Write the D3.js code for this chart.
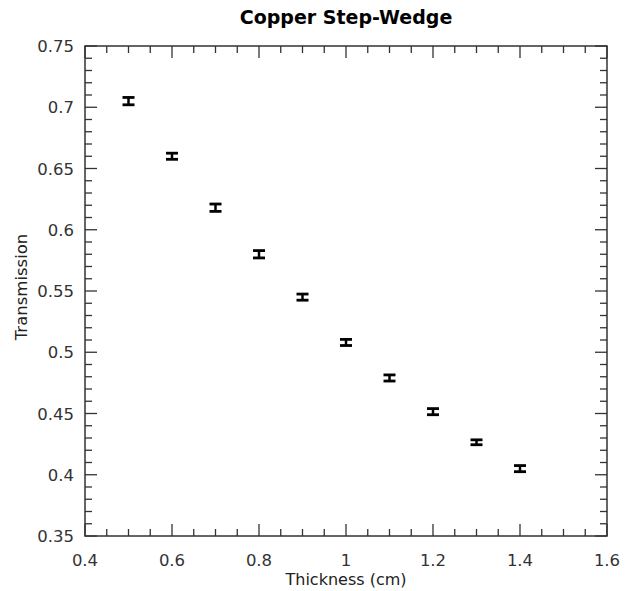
<!DOCTYPE html>
<html>
<head>
<meta charset="utf-8">
<script src="https://d3js.org/d3.v7.min.js"></script>
<style>
  body { margin: 0; background: #fff; }
  text { font-family: "DejaVu Sans", Verdana, sans-serif; }
</style>
</head>
<body>
<script>
// thickness of copper (cm) and measured transmission
const thickness = [0.5, 0.6, 0.7, 0.8, 0.9, 1.0, 1.1, 1.2, 1.3, 1.4];
const transmission = [0.705, 0.660, 0.618, 0.580, 0.545, 0.508, 0.479, 0.4515, 0.4265, 0.405];
const errors = [0.003, 0.0025, 0.003, 0.003, 0.0025, 0.0025, 0.0025, 0.0025, 0.002, 0.0025];
const xTicks = [0.4, 0.6, 0.8, 1.0, 1.2, 1.4, 1.6];
const yTicks = [0.35, 0.4, 0.45, 0.5, 0.55, 0.6, 0.65, 0.7, 0.75];

const width = 627, height = 591;
const margin = {top: 46, right: 20, bottom: 55, left: 85};

const svg = d3.select('body').append('svg')
  .attr('width', width).attr('height', height);

const x = d3.scaleLinear().domain([0.4, 1.6]).range([margin.left, width - margin.right]);
const y = d3.scaleLinear().domain([0.35, 0.75]).range([height - margin.bottom, margin.top]);

const x0 = x.range()[0], x1 = x.range()[1], y0 = y.range()[0], y1 = y.range()[1];

const xMinor = d3.range(0.4, 1.6001, 0.05).map(v => +v.toFixed(2));
const yMinor = d3.range(0.35, 0.7501, 0.01).map(v => +v.toFixed(2));
const isMajor = (v, arr) => arr.some(t => Math.abs(t - v) < 1e-6);

const axisColor = '#333';
const g = svg.append('g').attr('stroke', axisColor).attr('stroke-width', 1.3);

// ticks pointing inward on all four sides
g.selectAll('.xt').data(xMinor).join('line')
  .attr('x1', d => x(d)).attr('x2', d => x(d))
  .attr('y1', y0).attr('y2', d => y0 - (isMajor(d, xTicks) ? 12 : 7));
g.selectAll('.xtt').data(xMinor).join('line')
  .attr('x1', d => x(d)).attr('x2', d => x(d))
  .attr('y1', y1).attr('y2', d => y1 + (isMajor(d, xTicks) ? 12 : 7));
g.selectAll('.yt').data(yMinor).join('line')
  .attr('y1', d => y(d)).attr('y2', d => y(d))
  .attr('x1', x0).attr('x2', d => x0 + (isMajor(d, yTicks) ? 12 : 7));
g.selectAll('.ytr').data(yMinor).join('line')
  .attr('y1', d => y(d)).attr('y2', d => y(d))
  .attr('x1', x1).attr('x2', d => x1 - (isMajor(d, yTicks) ? 12 : 7));

svg.append('rect')
  .attr('x', x0).attr('y', y1).attr('width', x1 - x0).attr('height', y0 - y1)
  .attr('fill', 'none').attr('stroke', axisColor).attr('stroke-width', 1.5);

// tick labels
svg.selectAll('.xl').data(xTicks).join('text')
  .attr('x', d => x(d)).attr('y', y0 + 30)
  .attr('text-anchor', 'middle').attr('font-size', 16.5).attr('fill', '#333')
  .text(d => d3.format('')(d));
svg.selectAll('.yl').data(yTicks).join('text')
  .attr('x', x0 - 11).attr('y', d => y(d) + 6)
  .attr('text-anchor', 'end').attr('font-size', 16.5).attr('fill', '#333')
  .text(d => d3.format('')(d));

// error bars
const pts = thickness.map((t, i) => ({x: t, y: transmission[i], e: errors[i]}));
const eb = svg.append('g').attr('stroke', '#000');
eb.selectAll('.v').data(pts).join('line')
  .attr('stroke-width', 2.5)
  .attr('x1', d => x(d.x)).attr('x2', d => x(d.x))
  .attr('y1', d => y(d.y - d.e)).attr('y2', d => y(d.y + d.e));
eb.selectAll('.ct').data(pts).join('line')
  .attr('stroke-width', 2.8)
  .attr('x1', d => x(d.x) - 6).attr('x2', d => x(d.x) + 6)
  .attr('y1', d => y(d.y + d.e)).attr('y2', d => y(d.y + d.e));
eb.selectAll('.cb').data(pts).join('line')
  .attr('stroke-width', 2.8)
  .attr('x1', d => x(d.x) - 6).attr('x2', d => x(d.x) + 6)
  .attr('y1', d => y(d.y - d.e)).attr('y2', d => y(d.y - d.e));

// titles
svg.append('text')
  .attr('x', (x0 + x1) / 2).attr('y', 24)
  .attr('text-anchor', 'middle').attr('font-size', 19).attr('font-weight', 'bold')
  .text('Copper Step-Wedge');
svg.append('text')
  .attr('x', (x0 + x1) / 2).attr('y', height - 6)
  .attr('text-anchor', 'middle').attr('font-size', 16).attr('fill', '#222')
  .text('Thickness (cm)');
svg.append('text')
  .attr('transform', `translate(27,${(y0 + y1) / 2 - 4}) rotate(-90)`)
  .attr('text-anchor', 'middle').attr('font-size', 16.5).attr('fill', '#222')
  .text('Transmission');
</script>
</body>
</html>
